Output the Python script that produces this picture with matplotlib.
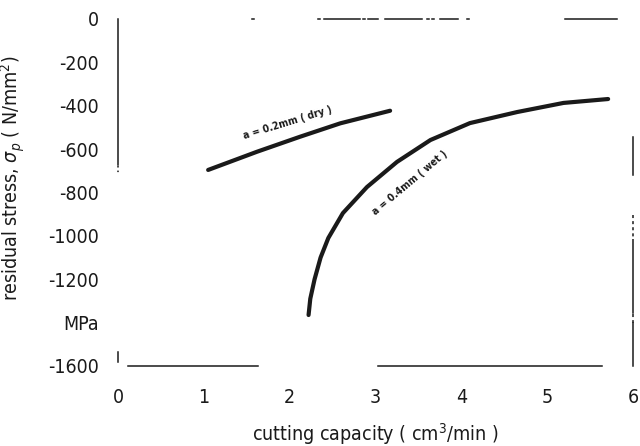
import matplotlib
matplotlib.use("Agg")
import matplotlib.pyplot as plt

plt.rcParams['font.family'] = ['DejaVu Sans']
plt.rcParams['font.stretch'] = 'condensed'

# curve a = 0.2 mm (dry)
dry_x = [1.05, 1.62, 2.12, 2.59, 3.17]
dry_y = [-696, -612, -543, -481, -423]

# curve a = 0.4 mm (wet)
wet_x = [2.22, 2.24, 2.29, 2.36, 2.45, 2.62, 2.90, 3.25, 3.64, 4.10, 4.65, 5.19, 5.71]
wet_y = [-1365, -1290, -1200, -1100, -1010, -895, -775, -659, -558, -480, -429, -387, -369]

x_ticks = [0, 1, 2, 3, 4, 5, 6]
y_ticks = [0, -200, -400, -600, -800, -1000, -1200, -1400, -1600]
y_labels = ['0', '-200', '-400', '-600', '-800', '-1000', '-1200', 'MPa', '-1600']

fig = plt.figure(figsize=(6.4, 4.46), dpi=100)
ax = fig.add_axes([0.1844, 0.1794, 0.8047, 0.778])

ink = '#1a1a1a'
ax.plot(dry_x, dry_y, color=ink, lw=3, solid_capstyle='round')
ax.plot(wet_x, wet_y, color=ink, lw=3, solid_capstyle='round')

ax.text(1.97, -478, 'a = 0.2mm ( dry )', fontsize=7.5, rotation=17,
        ha='center', va='center', color=ink, fontweight='bold')
ax.text(3.40, -755, 'a = 0.4mm ( wet )', fontsize=7.5, rotation=40,
        ha='center', va='center', color=ink, fontweight='bold')

ax.set_xlim(0, 6)
ax.set_ylim(-1600, 0)
ax.set_xticks(x_ticks)
ax.set_xticklabels([str(v) for v in x_ticks])
ax.set_yticks(y_ticks)
ax.set_yticklabels(y_labels)
ax.tick_params(axis='both', length=0, labelsize=14, colors=ink)
ax.tick_params(axis='y', pad=14)
ax.tick_params(axis='x', pad=16)

for s in ax.spines.values():
    s.set_visible(False)

# broken frame of the scanned original (axes fractions)
frame = dict(color=ink, lw=1.1, transform=ax.transAxes, clip_on=False)
ax.plot([0, 0], [1, 0.58], **frame)
ax.plot([0, 0], [0.575, 0.55], color=ink, lw=1.1, ls=(0, (1, 2)),
        transform=ax.transAxes, clip_on=False)
ax.plot([0, 0], [0.012, 0.04], **frame)
for a, b in [(0.019, 0.272), (0.505, 0.94)]:
    ax.plot([a, b], [0, 0], **frame)
for a, b in [(0.40, 0.47), (0.485, 0.505), (0.518, 0.59), (0.625, 0.66), (0.868, 0.969)]:
    ax.plot([a, b], [1, 1], **frame)
for a in [0.26, 0.388, 0.475, 0.60, 0.61, 0.678]:
    ax.plot([a, a + 0.004], [1, 1], **frame)
for a, b in [(0.66, 0.55), (0.363, 0.153), (0.124, 0.0)]:
    ax.plot([1, 1], [a, b], **frame)
ax.plot([1, 1], [0.435, 0.363], color=ink, lw=1.1, ls=(0, (2, 2)),
        transform=ax.transAxes, clip_on=False)
ax.plot([1, 1], [0.15, 0.124], color=ink, lw=1.1, ls=(0, (2, 2)),
        transform=ax.transAxes, clip_on=False)

ax.set_xlabel('cutting capacity ( cm$^3$/min )', fontsize=14, color=ink, labelpad=10)
ax.set_ylabel(r'residual stress, $\sigma_p$ ( N/mm$^2$)', fontsize=14, color=ink)
ax.yaxis.set_label_coords(-0.176, 0.542)

fig.savefig('out.png', dpi=100)
